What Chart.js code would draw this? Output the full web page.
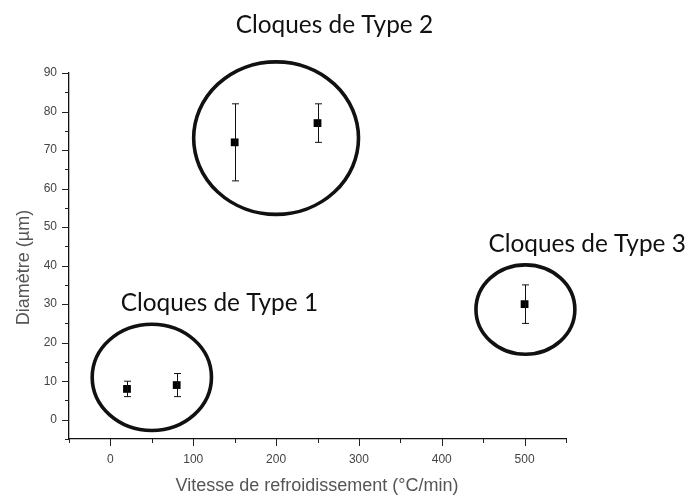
<!DOCTYPE html>
<html>
<head>
<meta charset="utf-8">
<script src="https://cdn.jsdelivr.net/npm/chart.js@4/dist/chart.umd.min.js"></script>
<style>
  html, body { margin: 0; padding: 0; background: #fff; }
  #wrap { width: 688px; height: 495px; }
</style>
</head>
<body>
<div id="wrap"><canvas id="c" width="688" height="495"></canvas></div>
<script>
// ---- data ----
const coolingRates = [20, 80, 150, 250, 500];      // °C/min
const diameters    = [8, 9, 72, 77, 30];           // µm
const diameterErr  = [2, 3, 10, 5, 5];             // µm (±)

const xTickValues  = [-50, 0, 50, 100, 150, 200, 250, 300, 350, 400, 450, 500, 550];
const xTickLabeled = [0, 100, 200, 300, 400, 500];
const yTickValues  = [-5, 0, 5, 10, 15, 20, 25, 30, 35, 40, 45, 50, 55, 60, 65, 70, 75, 80, 85, 90];
const yTickLabeled = [0, 10, 20, 30, 40, 50, 60, 70, 80, 90];

const groupNames   = ['Cloques de Type 1', 'Cloques de Type 2', 'Cloques de Type 3'];
const groupCenterX = [50, 200, 501];
const groupCenterY = [11, 73.1, 28.6];
const groupRadiusX = [72, 99.5, 59.7];
const groupRadiusY = [13.8, 19.8, 11.6];
const groupLabelX  = [131.5, 270.4, 575.5];   // label centre (data units)
const groupLabelY  = [28.3, 100.5, 43.5];     // label baseline (data units)

const xTitle = 'Vitesse de refroidissement (°C/min)';
const yTitle = 'Diamètre (µm)';

const points = coolingRates.map((x, i) => ({ x: x, y: diameters[i] }));

const decor = {
  id: 'decor',
  afterDatasetsDraw(chart) {
    const ctx = chart.ctx;
    const xs = chart.scales.x, ys = chart.scales.y;
    const area = chart.chartArea;
    ctx.save();

    // minor/major tick marks
    ctx.strokeStyle = '#222';
    ctx.lineWidth = 1;
    xTickValues.forEach(v => {
      const px = Math.round(xs.getPixelForValue(v)) + 0.5;
      const len = xTickLabeled.includes(v) ? 7 : 4;
      ctx.beginPath(); ctx.moveTo(px, area.bottom); ctx.lineTo(px, area.bottom + len); ctx.stroke();
    });
    yTickValues.forEach(v => {
      const py = Math.round(ys.getPixelForValue(v)) + 0.5;
      const len = yTickLabeled.includes(v) ? 7 : 4;
      ctx.beginPath(); ctx.moveTo(area.left - len, py); ctx.lineTo(area.left, py); ctx.stroke();
    });

    // error bars
    ctx.strokeStyle = '#111';
    ctx.lineWidth = 1;
    coolingRates.forEach((x, i) => {
      const px = Math.round(xs.getPixelForValue(x)) + 0.5;
      const top = ys.getPixelForValue(diameters[i] + diameterErr[i]);
      const bot = ys.getPixelForValue(diameters[i] - diameterErr[i]);
      ctx.beginPath();
      ctx.moveTo(px, top); ctx.lineTo(px, bot);
      ctx.moveTo(px - 3.5, top); ctx.lineTo(px + 3.5, top);
      ctx.moveTo(px - 3.5, bot); ctx.lineTo(px + 3.5, bot);
      ctx.stroke();
    });

    // group ellipses
    ctx.strokeStyle = '#111';
    ctx.lineWidth = 3.6;
    groupCenterX.forEach((cx, i) => {
      const pcx = xs.getPixelForValue(cx);
      const pcy = ys.getPixelForValue(groupCenterY[i]);
      const rx = Math.abs(xs.getPixelForValue(cx + groupRadiusX[i]) - pcx);
      const ry = Math.abs(ys.getPixelForValue(groupCenterY[i] + groupRadiusY[i]) - pcy);
      ctx.beginPath();
      ctx.ellipse(pcx, pcy, rx, ry, 0, 0, Math.PI * 2);
      ctx.stroke();
    });

    // group labels
    ctx.fillStyle = '#111';
    ctx.font = '24.4px Lato, "Open Sans", sans-serif';
    ctx.textAlign = 'center';
    ctx.textBaseline = 'alphabetic';
    groupNames.forEach((t, i) => {
      ctx.fillText(t, xs.getPixelForValue(groupLabelX[i]), ys.getPixelForValue(groupLabelY[i]));
    });

    // axis titles
    ctx.fillStyle = '#555';
    ctx.font = '18px "Liberation Sans", Arial, sans-serif';
    ctx.textAlign = 'center';
    ctx.fillText(xTitle, 317, 490.5);
    ctx.translate(29, 267.5);
    ctx.rotate(-Math.PI / 2);
    ctx.fillText(yTitle, 0, 0);
    ctx.restore();
  }
};

new Chart(document.getElementById('c'), {
  type: 'scatter',
  data: {
    datasets: [{
      data: points,
      pointStyle: 'rect',
      pointRadius: 5.5,
      pointHoverRadius: 5.5,
      backgroundColor: '#000',
      borderColor: '#000',
      borderWidth: 0,
      showLine: false
    }]
  },
  options: {
    responsive: false,
    animation: false,
    events: [],
    layout: { padding: { top: 73, right: 122, left: 0, bottom: 0 } },
    plugins: { legend: { display: false }, tooltip: { enabled: false }, title: { display: false } },
    scales: {
      x: {
        type: 'linear',
        min: -50, max: 550,
        afterBuildTicks: s => { s.ticks = xTickValues.map(v => ({ value: v })); },
        afterFit: s => { s.height = 56; },
        grid: { display: false, drawTicks: false, tickLength: 0 },
        border: { display: true, color: '#111', width: 1.3 },
        ticks: {
          autoSkip: false, maxRotation: 0, padding: 13.5,
          color: '#444',
          font: { family: '"Liberation Sans", Arial, sans-serif', size: 12 },
          callback: v => xTickLabeled.includes(v) ? String(v) : ''
        }
      },
      y: {
        type: 'linear',
        min: -5, max: 90,
        afterBuildTicks: s => { s.ticks = yTickValues.map(v => ({ value: v })); },
        afterFit: s => { s.width = 69; },
        grid: { display: false, drawTicks: false, tickLength: 0 },
        border: { display: true, color: '#111', width: 1.3 },
        ticks: {
          autoSkip: false, padding: 12,
          color: '#444',
          font: { family: '"Liberation Sans", Arial, sans-serif', size: 12 },
          callback: v => yTickLabeled.includes(v) ? String(v) : ''
        }
      }
    }
  },
  plugins: [decor]
});
</script>
</body>
</html>
